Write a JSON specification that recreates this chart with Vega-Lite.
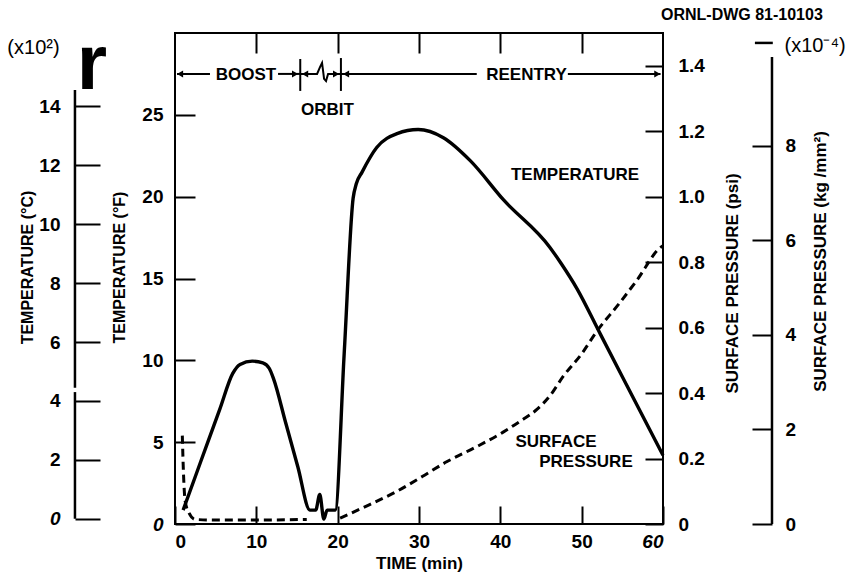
{
  "$schema": "https://vega.github.io/schema/vega-lite/v6.json",
  "width": 488,
  "height": 491,
  "autosize": {"type": "none"},
  "padding": {"left": 175, "top": 33, "right": 187, "bottom": 61},
  "background": "white",
  "config": {
    "view": {"stroke": "black", "strokeWidth": 2},
    "font": "Liberation Sans",
    "axis": {
      "labelFont": "Liberation Sans",
      "titleFont": "Liberation Sans",
      "labelColor": "black",
      "titleColor": "black",
      "tickColor": "black",
      "domainColor": "black",
      "grid": false,
      "labelFontWeight": "bold",
      "labelFontSize": 19,
      "titleFontWeight": "bold",
      "titleFontSize": 16,
      "tickWidth": 2
    }
  },
  "datasets": {
    "temp": [
      {"t": 1.0, "f": 0.85}, {"t": 2.5, "f": 2.9}, {"t": 4.0, "f": 4.96}, {"t": 5.5, "f": 7.0},
      {"t": 7.1, "f": 9.2}, {"t": 8.0, "f": 9.75},
      {"t": 9.5, "f": 9.95}, {"t": 10.8, "f": 9.85}, {"t": 11.6, "f": 9.5}, {"t": 12.1, "f": 8.9},
      {"t": 13.6, "f": 6.2}, {"t": 15.1, "f": 3.5},
      {"t": 16.6, "f": 0.85}, {"t": 17.3, "f": 0.85}, {"t": 17.8, "f": 1.8}, {"t": 18.3, "f": 0.3},
      {"t": 18.7, "f": 0.85}, {"t": 19.7, "f": 0.85}, {"t": 20.8, "f": 10.4}, {"t": 21.9, "f": 19.9},
      {"t": 22.3, "f": 20.8}, {"t": 23.0, "f": 21.5}, {"t": 24.8, "f": 23.0}, {"t": 27.3, "f": 23.85},
      {"t": 29.9, "f": 24.1}, {"t": 33.0, "f": 23.6}, {"t": 36.3, "f": 22.2}, {"t": 40.4, "f": 19.8},
      {"t": 46.1, "f": 16.9}, {"t": 47.5, "f": 15.9}, {"t": 49.4, "f": 14.4}, {"t": 52.3, "f": 11.6},
      {"t": 55.0, "f": 9.0}, {"t": 60.0, "f": 4.2}
    ],
    "press": [
      {"seg": 1, "t": 0.9, "p": 0.27}, {"seg": 1, "t": 1.05, "p": 0.15}, {"seg": 1, "t": 1.25, "p": 0.07},
      {"seg": 1, "t": 1.7, "p": 0.035}, {"seg": 1, "t": 2.5, "p": 0.014}, {"seg": 1, "t": 5, "p": 0.012},
      {"seg": 1, "t": 10, "p": 0.012}, {"seg": 1, "t": 16.2, "p": 0.014},
      {"seg": 2, "t": 20.3, "p": 0.018}, {"seg": 2, "t": 24, "p": 0.06}, {"seg": 2, "t": 27.3, "p": 0.10},
      {"seg": 2, "t": 30.4, "p": 0.145}, {"seg": 2, "t": 33.4, "p": 0.19}, {"seg": 2, "t": 37, "p": 0.235},
      {"seg": 2, "t": 40.3, "p": 0.28}, {"seg": 2, "t": 42.5, "p": 0.315}, {"seg": 2, "t": 44.5, "p": 0.35},
      {"seg": 2, "t": 46.2, "p": 0.395}, {"seg": 2, "t": 47.7, "p": 0.45}, {"seg": 2, "t": 50, "p": 0.52},
      {"seg": 2, "t": 51.9, "p": 0.59}, {"seg": 2, "t": 54.5, "p": 0.67}, {"seg": 2, "t": 56.8, "p": 0.745},
      {"seg": 2, "t": 59.7, "p": 0.845}, {"seg": 2, "t": 60, "p": 0.85}
    ],
    "phase": [
      {"t1": 0.25, "t2": 4.3, "f1": 27.5, "f2": 27.5},
      {"t1": 12.67, "t2": 15.4, "f1": 27.5, "f2": 27.5},
      {"t1": 15.4, "t2": 15.4, "f1": 26.46, "f2": 28.41},
      {"t1": 20.4, "t2": 20.4, "f1": 26.46, "f2": 28.47},
      {"t1": 20.4, "t2": 37.1, "f1": 27.5, "f2": 27.5},
      {"t1": 48.3, "t2": 59.7, "f1": 27.5, "f2": 27.5}
    ],
    "wiggle": [
      {"t": 15.4, "f": 27.5}, {"t": 17.47, "f": 27.5}, {"t": 17.84, "f": 27.93}, {"t": 18.08, "f": 28.17},
      {"t": 18.33, "f": 27.2}, {"t": 18.57, "f": 27.07}, {"t": 18.82, "f": 27.5}, {"t": 20.4, "f": 27.5}
    ],
    "arrows": [
      {"t": 0.62, "f": 27.5, "dir": "left"}, {"t": 14.76, "f": 27.5, "dir": "right"},
      {"t": 16.0, "f": 27.5, "dir": "left"}, {"t": 19.8, "f": 27.5, "dir": "right"},
      {"t": 21.03, "f": 27.5, "dir": "left"}, {"t": 59.3, "f": 27.5, "dir": "right"}
    ],
    "labels": [
      {"t": 49.18, "f": 21.32, "label": "TEMPERATURE"},
      {"t": 46.85, "f": 5.01, "label": "SURFACE"},
      {"t": 50.53, "f": 3.79, "label": "PRESSURE"},
      {"t": 8.73, "f": 27.46, "label": "BOOST"},
      {"t": 18.75, "f": 25.32, "label": "ORBIT"},
      {"t": 43.22, "f": 27.46, "label": "REENTRY"}
    ],
    "units": [
      {"t": -17.4, "f": 29.08, "label": "(x10²)"},
      {"t": 78.7, "f": 29.2, "label": "(x10⁻⁴)"}
    ],
    "dwg": [{"t": 69.7, "f": 31.1, "label": "ORNL-DWG 81-10103"}],
    "glyph": [{"t": -10.2, "f": 26.57, "label": "r"}],
    "cline": [
      {"t": -12.3, "c1": 0, "c2": 4.3},
      {"t": -12.3, "c1": 4.45, "c2": 14.55}
    ],
    "kline": [
      {"t1": 73.4, "t2": 73.4, "k1": 0, "k2": 9.88},
      {"t1": 71.3, "t2": 73.5, "k1": 10.18, "k2": 10.18}
    ]
  },
  "layer": [
    {
      "data": {"name": "temp"},
      "mark": {"type": "line", "color": "black", "strokeWidth": 3.4, "interpolate": "monotone"},
      "encoding": {
        "x": {
          "field": "t", "type": "quantitative",
          "scale": {"domain": [0, 60], "nice": false, "zero": false},
          "axis": {
            "orient": "bottom", "values": [0, 10, 20, 30, 40, 50, 60],
            "tickSize": -18, "domain": false, "labelPadding": 26,
            "title": "TIME (min)", "titleY": 39, "titleBaseline": "middle", "titleFontSize": 17,
            "labelFontStyle": {"condition": {"test": "datum.value == 60", "value": "italic"}, "value": "normal"}
          }
        },
        "y": {
          "field": "f", "type": "quantitative",
          "scale": {"domain": [0, 30], "nice": false, "zero": false},
          "axis": {
            "orient": "left", "values": [0, 5, 10, 15, 20, 25],
            "tickSize": -20, "domain": false, "labelPadding": 32,
            "title": "TEMPERATURE (°F)", "titleX": -56, "titleY": 234, "titleAngle": 270,
            "titleAlign": "center", "titleBaseline": "middle",
            "labelFontStyle": {"condition": {"test": "datum.value == 0", "value": "italic"}, "value": "normal"}
          }
        }
      }
    },
    {
      "data": {"name": "press"},
      "mark": {"type": "line", "color": "black", "strokeWidth": 3, "strokeDash": [8, 5], "interpolate": "monotone"},
      "encoding": {
        "x": {
          "field": "t", "type": "quantitative",
          "scale": {"domain": [0, 60], "nice": false, "zero": false},
          "axis": {"orient": "top", "values": [10, 20, 30, 40, 50], "labels": false, "tickSize": -20, "domain": false, "title": null}
        },
        "y": {
          "field": "p", "type": "quantitative",
          "scale": {"domain": [0, 1.5], "nice": false, "zero": false},
          "axis": {
            "orient": "right", "values": [0, 0.2, 0.4, 0.6, 0.8, 1.0, 1.2, 1.4],
            "labelExpr": "datum.value == 0 ? '0' : format(datum.value, '.1f')",
            "tickSize": -18, "domain": false, "labelPadding": 33,
            "title": "SURFACE PRESSURE (psi)", "titleX": 69, "titleY": 250, "titleAngle": 270,
            "titleAlign": "center", "titleBaseline": "middle", "titleFontSize": 17
          }
        },
        "detail": {"field": "seg", "type": "nominal"}
      }
    },
    {
      "data": {"name": "cline"},
      "mark": {"type": "rule", "color": "black", "strokeWidth": 2.5},
      "encoding": {
        "x": {"field": "t", "type": "quantitative", "scale": {"domain": [0, 60], "nice": false, "zero": false}, "axis": null},
        "y": {
          "field": "c1", "type": "quantitative",
          "scale": {"domain": [-0.1778, 16.4889], "nice": false, "zero": false},
          "axis": {
            "orient": "left", "offset": 100, "values": [0, 2, 4, 6, 8, 10, 12, 14],
            "tickSize": -25, "domain": false, "labelPadding": 40,
            "title": "TEMPERATURE (°C)", "titleX": -48, "titleY": 234, "titleAngle": 270,
            "titleAlign": "center", "titleBaseline": "middle",
            "labelFontStyle": {"condition": {"test": "datum.value == 0", "value": "italic"}, "value": "normal"}
          }
        },
        "y2": {"field": "c2"}
      }
    },
    {
      "data": {"name": "kline"},
      "mark": {"type": "rule", "color": "black", "strokeWidth": 2.5},
      "encoding": {
        "x": {"field": "t1", "type": "quantitative", "scale": {"domain": [0, 60], "nice": false, "zero": false}, "axis": null},
        "x2": {"field": "t2"},
        "y": {
          "field": "k1", "type": "quantitative",
          "scale": {"domain": [0, 10.39], "nice": false, "zero": false},
          "axis": {
            "orient": "right", "offset": 109, "values": [0, 2, 4, 6, 8],
            "tickSize": -20, "domain": false, "labelPadding": 33,
            "title": "SURFACE  PRESSURE  (kg /mm²)", "titleX": 48, "titleY": 228, "titleAngle": 270,
            "titleAlign": "center", "titleBaseline": "middle", "titleFontSize": 17
          }
        },
        "y2": {"field": "k2"}
      }
    },
    {
      "data": {"name": "phase"},
      "mark": {"type": "rule", "color": "black", "strokeWidth": 2},
      "encoding": {
        "x": {"field": "t1", "type": "quantitative", "scale": {"domain": [0, 60], "nice": false, "zero": false}, "axis": null},
        "x2": {"field": "t2"},
        "y": {"field": "f1", "type": "quantitative", "scale": {"domain": [0, 30], "nice": false, "zero": false}, "axis": null},
        "y2": {"field": "f2"}
      }
    },
    {
      "data": {"name": "wiggle"},
      "mark": {"type": "line", "color": "black", "strokeWidth": 2},
      "encoding": {
        "x": {"field": "t", "type": "quantitative", "scale": {"domain": [0, 60], "nice": false, "zero": false}, "axis": null},
        "y": {"field": "f", "type": "quantitative", "scale": {"domain": [0, 30], "nice": false, "zero": false}, "axis": null}
      }
    },
    {
      "data": {"name": "arrows"},
      "mark": {"type": "point", "filled": true, "color": "black", "size": 50, "opacity": 1},
      "encoding": {
        "x": {"field": "t", "type": "quantitative", "scale": {"domain": [0, 60], "nice": false, "zero": false}, "axis": null},
        "y": {"field": "f", "type": "quantitative", "scale": {"domain": [0, 30], "nice": false, "zero": false}, "axis": null},
        "shape": {"field": "dir", "type": "nominal", "scale": {"domain": ["left", "right"], "range": ["triangle-left", "triangle-right"]}, "legend": null}
      }
    },
    {
      "data": {"name": "labels"},
      "mark": {"type": "text", "font": "Liberation Sans", "fontWeight": "bold", "fontSize": 17, "align": "center", "baseline": "middle", "color": "black"},
      "encoding": {
        "x": {"field": "t", "type": "quantitative", "scale": {"domain": [0, 60], "nice": false, "zero": false}, "axis": null},
        "y": {"field": "f", "type": "quantitative", "scale": {"domain": [0, 30], "nice": false, "zero": false}, "axis": null},
        "text": {"field": "label"}
      }
    },
    {
      "data": {"name": "units"},
      "mark": {"type": "text", "font": "Liberation Sans", "fontSize": 20, "align": "center", "baseline": "middle", "color": "black"},
      "encoding": {
        "x": {"field": "t", "type": "quantitative", "scale": {"domain": [0, 60], "nice": false, "zero": false}, "axis": null},
        "y": {"field": "f", "type": "quantitative", "scale": {"domain": [0, 30], "nice": false, "zero": false}, "axis": null},
        "text": {"field": "label"}
      }
    },
    {
      "data": {"name": "dwg"},
      "mark": {"type": "text", "font": "Liberation Sans", "fontWeight": "bold", "fontSize": 16, "align": "center", "baseline": "middle", "color": "black"},
      "encoding": {
        "x": {"field": "t", "type": "quantitative", "scale": {"domain": [0, 60], "nice": false, "zero": false}, "axis": null},
        "y": {"field": "f", "type": "quantitative", "scale": {"domain": [0, 30], "nice": false, "zero": false}, "axis": null},
        "text": {"field": "label"}
      }
    },
    {
      "data": {"name": "glyph"},
      "mark": {"type": "text", "font": "Liberation Sans", "fontWeight": "bold", "fontSize": 78, "align": "center", "baseline": "alphabetic", "color": "black"},
      "encoding": {
        "x": {"field": "t", "type": "quantitative", "scale": {"domain": [0, 60], "nice": false, "zero": false}, "axis": null},
        "y": {"field": "f", "type": "quantitative", "scale": {"domain": [0, 30], "nice": false, "zero": false}, "axis": null},
        "text": {"field": "label"}
      }
    }
  ],
  "resolve": {"scale": {"y": "independent"}}
}
